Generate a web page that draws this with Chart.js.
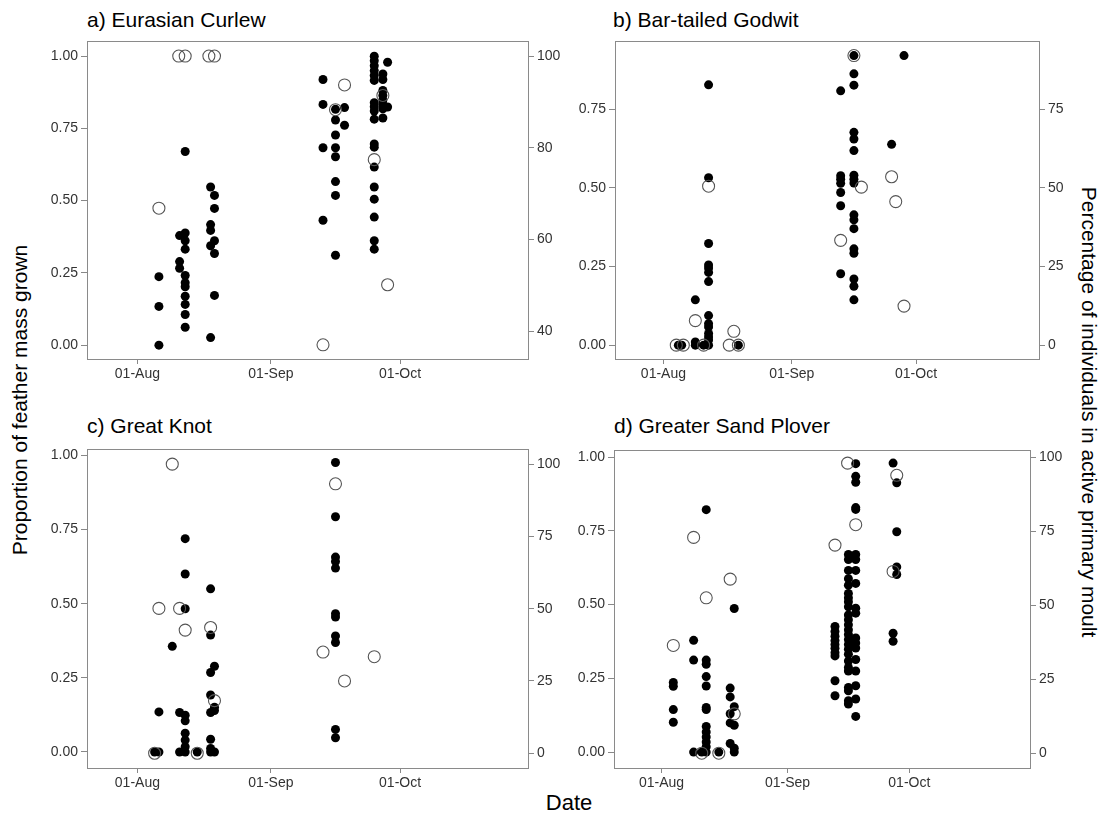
<!DOCTYPE html>
<html><head><meta charset="utf-8">
<script src="https://cdn.jsdelivr.net/npm/chart.js@4.4.1/dist/chart.umd.min.js"></script>
<style>
body{margin:0;background:#fff;width:1106px;height:821px;position:relative;overflow:hidden;font-family:"Liberation Sans",Arial,sans-serif;}
canvas{position:absolute;}
.t{position:absolute;font-size:21px;color:#000;white-space:nowrap;line-height:21px;}
.ax{position:absolute;font-size:21px;color:#000;white-space:nowrap;line-height:21px;transform:translate(-50%,-50%) rotate(-90deg);}
</style></head><body>
<div class="t" style="left:87px;top:9px">a) Eurasian Curlew</div>
<div class="t" style="left:613px;top:9px">b) Bar-tailed Godwit</div>
<div class="t" style="left:87px;top:415px">c) Great Knot</div>
<div class="t" style="left:614px;top:415px">d) Greater Sand Plover</div>
<div class="ax" style="left:19px;top:400px">Proportion of feather mass grown</div>
<div class="ax" style="left:1089px;top:412px;transform:translate(-50%,-50%) rotate(90deg)">Percentage of individuals in active primary moult</div>
<div style="position:absolute;left:569px;top:803px;transform:translate(-50%,-50%);font-size:22px;line-height:22px">Date</div>
<canvas id="pa" width="540" height="355" style="left:30px;top:30px"></canvas>
<canvas id="pb" width="520" height="355" style="left:560px;top:30px"></canvas>
<canvas id="pc" width="540" height="357" style="left:30px;top:438px"></canvas>
<canvas id="pd" width="520" height="356" style="left:560px;top:439px"></canvas>
<script>
// Date axis (day of year)
const dateTicks = [213, 244, 274];
const dateLabels = ['01-Aug', '01-Sep', '01-Oct'];
const propTicksFull = [0, 0.25, 0.5, 0.75, 1.0];
const propTicksB = [0, 0.25, 0.5, 0.75];
const pctTicksA = [40, 60, 80, 100];
const pctTicksB = [0, 25, 50, 75];
const pctTicksFull = [0, 25, 50, 75, 100];

// a) Eurasian Curlew: [day, [proportion of feather mass grown...]]
const curlewMass = [
  [218.0, [0.237, 0.134, 0.0]],
  [222.8, [0.379, 0.289, 0.266]],
  [224.1, [0.670, 0.388, 0.361, 0.332, 0.241, 0.216, 0.202, 0.169, 0.141, 0.106, 0.062]],
  [230.0, [0.547, 0.417, 0.397, 0.344, 0.026]],
  [230.9, [0.518, 0.473, 0.361, 0.317, 0.172]],
  [256.1, [0.919, 0.833, 0.683, 0.432]],
  [259.0, [0.816, 0.779, 0.727, 0.683, 0.652, 0.566, 0.518, 0.311]],
  [261.1, [0.822, 0.761]],
  [268.0, [1.0, 0.984, 0.967, 0.950, 0.933, 0.916, 0.839, 0.825, 0.810, 0.782, 0.696, 0.685, 0.616, 0.547, 0.505, 0.443, 0.361, 0.332]],
  [270.0, [0.938, 0.919, 0.881, 0.864, 0.848, 0.833, 0.818, 0.786]],
  [271.1, [0.979, 0.824]]
];
// [day, [percentage in active primary moult]]
const curlewMoult = [
  [218.0, [66.8]], [222.6, [100]], [224.1, [100]], [229.6, [100]], [230.9, [100]],
  [256.1, [37.0]], [259.0, [88.3]], [261.1, [93.7]], [268.0, [77.4]], [270.0, [91.4]], [271.1, [50.1]]
];

// b) Bar-tailed Godwit
const godwitMass = [
  [216.6, [0.0]], [217.4, [0.0]],
  [220.7, [0.144, 0.010, 0.0]],
  [222.7, [0.0]],
  [223.9, [0.827, 0.532, 0.323, 0.255, 0.245, 0.231, 0.202, 0.094, 0.068, 0.058, 0.037, 0.026, 0.016, 0.0]],
  [231.1, [0.0]],
  [255.8, [0.808, 0.538, 0.527, 0.514, 0.485, 0.443, 0.227]],
  [259.0, [0.920, 0.862, 0.826, 0.676, 0.655, 0.618, 0.540, 0.527, 0.515, 0.414, 0.398, 0.370, 0.306, 0.292, 0.210, 0.187, 0.144]],
  [268.1, [0.638]],
  [271.1, [0.920]]
];
const godwitMoult = [
  [216.1, [0]], [217.8, [0]], [220.7, [7.8]], [222.7, [0]], [223.9, [50.5]], [228.9, [0]], [230.0, [4.4]], [231.1, [0]],
  [255.8, [33.3]], [259.0, [92.0]], [260.8, [50.2]], [268.1, [53.5]], [269.1, [45.6]], [271.1, [12.4]]
];

// c) Great Knot
const knotMass = [
  [217.0, [0.0]],
  [218.0, [0.135, 0.0]],
  [221.1, [0.356]],
  [222.8, [0.133, 0.0]],
  [224.1, [0.719, 0.600, 0.483, 0.124, 0.105, 0.063, 0.040, 0.018, 0.0]],
  [226.9, [0.0]],
  [230.0, [0.550, 0.394, 0.268, 0.192, 0.133, 0.043, 0.012, 0.0]],
  [230.9, [0.289, 0.151, 0.140, 0.0]],
  [259.0, [0.976, 0.793, 0.657, 0.642, 0.620, 0.466, 0.455, 0.391, 0.369, 0.076, 0.048]]
];
const knotMoult = [
  [217.0, [0]], [218.0, [50.1]], [221.1, [100]], [222.8, [50.1]], [224.1, [42.6]], [226.9, [0]],
  [230.0, [43.5]], [230.9, [18.2]], [256.1, [35.0]], [259.0, [93.2]], [261.1, [25.0]], [268.0, [33.4]]
];

// d) Greater Sand Plover
const ploverMass = [
  [215.9, [0.236, 0.223, 0.144, 0.101]],
  [220.9, [0.379, 0.312, 0.0]],
  [222.9, [0.0]],
  [224.0, [0.822, 0.312, 0.298, 0.256, 0.224, 0.151, 0.144, 0.087, 0.068, 0.051, 0.034, 0.018, 0.0]],
  [227.1, [0.0]],
  [229.9, [0.217, 0.187, 0.130, 0.099, 0.029]],
  [230.9, [0.487, 0.154, 0.091, 0.013, 0.0]],
  [255.7, [0.426, 0.409, 0.393, 0.378, 0.365, 0.352, 0.337, 0.326, 0.242, 0.191]],
  [259.0, [0.670, 0.653, 0.616, 0.588, 0.566, 0.538, 0.523, 0.510, 0.493, 0.465, 0.449, 0.432, 0.415, 0.399, 0.382, 0.365, 0.349, 0.332, 0.309, 0.287, 0.275, 0.219, 0.208, 0.174, 0.163]],
  [260.8, [0.978, 0.935, 0.915, 0.829, 0.823, 0.670, 0.653, 0.616, 0.572, 0.488, 0.471, 0.387, 0.370, 0.353, 0.314, 0.275, 0.225, 0.180, 0.121]],
  [270.0, [0.980, 0.403, 0.376]],
  [270.9, [0.913, 0.747, 0.628, 0.602]]
];
const ploverMoult = [
  [215.9, [36.4]], [220.9, [72.9]], [222.9, [0]], [224.0, [52.5]], [227.1, [0]], [229.9, [58.8]], [230.9, [13.3]],
  [255.7, [70.3]], [258.8, [98.0]], [260.8, [77.2]], [270.0, [61.4]], [270.9, [93.9]]
];

function flatten(cols) {
  const out = [];
  cols.forEach(([d, vals]) => vals.forEach(v => out.push({x: d, y: v})));
  return out;
}

const tickFont = {family: '"Liberation Sans", Arial, sans-serif', size: 14};
const tickColor = '#333';
const gridCfg = {drawOnChartArea: false, drawTicks: true, tickLength: 6, color: '#888', lineWidth: 1};

const boxPlugin = {
  id: 'box',
  beforeDatasetsDraw(chart) {
    const {ctx, chartArea: a} = chart;
    ctx.save();
    ctx.strokeStyle = '#8a8a8a';
    ctx.lineWidth = 1;
    ctx.strokeRect(Math.round(a.left) + 0.5, Math.round(a.top) + 0.5, Math.round(a.right - a.left), Math.round(a.bottom - a.top));
    ctx.restore();
  }
};

function makePanel(id, mass, moult, o) {
  new Chart(document.getElementById(id), {
    type: 'scatter',
    data: {datasets: [
      {data: flatten(moult), yAxisID: 'y2', pointRadius: 6, pointHoverRadius: 6,
       pointBorderColor: '#555', pointBackgroundColor: 'rgba(255,255,255,0)', pointBorderWidth: 1.1},
      {data: flatten(mass), yAxisID: 'y', pointRadius: 4.5, pointHoverRadius: 4.5,
       pointBackgroundColor: '#000', pointBorderColor: '#000', pointBorderWidth: 0}
    ]},
    options: {
      responsive: false, animation: false, events: [],
      layout: {padding: {top: o.padTop, left: 0, right: 0, bottom: 0}},
      plugins: {legend: {display: false}, tooltip: {enabled: false}},
      scales: {
        x: {type: 'linear', position: 'bottom', min: 201.3, max: 303.7,
          afterBuildTicks: s => { s.ticks = dateTicks.map(v => ({value: v})); },
          afterFit: s => { s.height = o.xH; },
          ticks: {autoSkip: false, maxRotation: 0, font: tickFont, color: tickColor, padding: 2,
            callback: (v, i) => dateLabels[i]},
          grid: {...gridCfg, tickLength: 5}, border: {display: false}},
        y: {type: 'linear', position: 'left', min: o.yMin, max: o.yMax,
          afterBuildTicks: s => { s.ticks = o.yTicks.map(v => ({value: v})); },
          afterFit: s => { s.width = o.yW; },
          ticks: {font: tickFont, color: tickColor, padding: 3, callback: v => Number(v).toFixed(2)},
          grid: gridCfg, border: {display: false}},
        y2: {type: 'linear', position: 'right', min: o.rMin, max: o.rMax,
          afterBuildTicks: s => { s.ticks = o.rTicks.map(v => ({value: v})); },
          afterFit: s => { s.width = o.rW; },
          ticks: {font: tickFont, color: tickColor, padding: 3, callback: v => String(Math.round(v))},
          grid: gridCfg, border: {display: false}}
      }
    },
    plugins: [boxPlugin]
  });
}

makePanel('pa', curlewMass, curlewMoult, {padTop: 8, xH: 26, yW: 57, rW: 42,
  yMin: -0.048, yMax: 1.051, yTicks: propTicksFull, rMin: 33.9, rMax: 103.2, rTicks: pctTicksA});
makePanel('pb', godwitMass, godwitMoult, {padTop: 8, xH: 26, yW: 55, rW: 41,
  yMin: -0.044, yMax: 0.965, yTicks: propTicksB, rMin: -4.4, rMax: 96.5, rTicks: pctTicksB});
makePanel('pc', knotMass, knotMoult, {padTop: 8, xH: 27, yW: 57, rW: 42,
  yMin: -0.054, yMax: 1.02, yTicks: propTicksFull, rMin: -5.1, rMax: 105.1, rTicks: pctTicksFull});
makePanel('pd', ploverMass, ploverMoult, {padTop: 8, xH: 27, yW: 54, rW: 50,
  yMin: -0.054, yMax: 1.023, yTicks: propTicksFull, rMin: -5.0, rMax: 102.3, rTicks: pctTicksFull});
</script>
</body></html>
